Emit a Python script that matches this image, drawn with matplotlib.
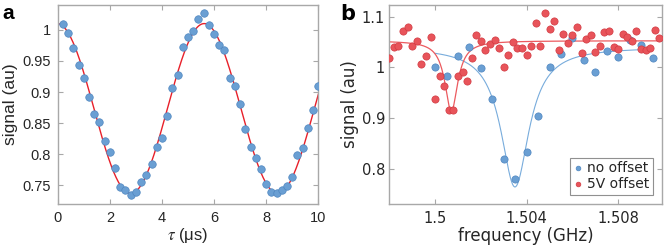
import numpy as np
import matplotlib
matplotlib.use("Agg")
import matplotlib.pyplot as plt

# ---------------- data: panel a ----------------
tau_us = [0.2, 0.4, 0.6, 0.8, 1.0, 1.2, 1.4, 1.6, 1.8, 2.0,
          2.2, 2.4, 2.6, 2.8, 3.0, 3.2, 3.4, 3.6, 3.8, 4.0,
          4.2, 4.4, 4.6, 4.8, 5.0, 5.2, 5.4, 5.6, 5.8, 6.0,
          6.2, 6.4, 6.6, 6.8, 7.0, 7.2, 7.4, 7.6, 7.8, 8.0,
          8.2, 8.4, 8.6, 8.8, 9.0, 9.2, 9.4, 9.6, 9.8, 10.0]
signal_a = [1.010, 0.995, 0.971, 0.943, 0.923, 0.892, 0.864, 0.851, 0.821, 0.804,
            0.778, 0.748, 0.742, 0.734, 0.739, 0.755, 0.766, 0.784, 0.812, 0.826,
            0.861, 0.907, 0.928, 0.972, 0.989, 0.998, 1.018, 1.027, 1.008, 0.994,
            0.975, 0.967, 0.923, 0.910, 0.881, 0.840, 0.812, 0.794, 0.776, 0.752,
            0.740, 0.738, 0.742, 0.749, 0.763, 0.798, 0.810, 0.842, 0.871, 0.910]
# cosine fit parameters (offset, amplitude, period, time of maximum)
fit_a_offset, fit_a_amp, fit_a_period, fit_a_tmax = 0.8735, 0.1365, 5.64, 5.62

# ---------------- data: panel b ----------------
freq_no_offset = [1.5000, 1.5005, 1.5010, 1.5015, 1.5020, 1.5025, 1.5030, 1.5035, 1.5040, 1.5045,
                  1.5050, 1.5055, 1.5060, 1.5065, 1.5070, 1.5075, 1.5080, 1.5085, 1.5090, 1.5095]
sig_no_offset = [1.001, 0.983, 1.022, 1.040, 0.998, 0.938, 0.820, 0.780, 0.833, 0.905,
                 1.001, 1.026, 1.058, 1.015, 0.992, 1.032, 1.021, 1.054, 1.045, 1.018]

freq_5v = [1.4980, 1.4982, 1.4984, 1.4986, 1.4988, 1.4990, 1.4992, 1.4994, 1.4996, 1.4998,
           1.5000, 1.5002, 1.5004, 1.5006, 1.5008, 1.5010, 1.5012, 1.5014, 1.5016, 1.5018,
           1.5020, 1.5022, 1.5024, 1.5026, 1.5028, 1.5030, 1.5032, 1.5034, 1.5036, 1.5038,
           1.5040, 1.5042, 1.5044, 1.5046, 1.5048, 1.5050, 1.5052, 1.5054, 1.5056, 1.5058,
           1.5060, 1.5062, 1.5064, 1.5066, 1.5068, 1.5070, 1.5072, 1.5074, 1.5076, 1.5078,
           1.5080, 1.5082, 1.5084, 1.5086, 1.5088, 1.5090, 1.5092, 1.5094, 1.5096, 1.5098]
sig_5v = [1.018, 1.041, 1.043, 1.071, 1.080, 1.043, 1.053, 1.007, 1.022, 1.059,
          0.937, 0.984, 0.963, 0.916, 0.916, 0.984, 0.992, 0.974, 1.019, 1.064,
          1.053, 1.034, 1.047, 1.054, 1.038, 1.001, 1.024, 1.050, 1.039, 1.039,
          1.024, 1.043, 1.087, 1.043, 1.108, 1.076, 1.091, 1.034, 1.066, 1.049,
          1.064, 1.079, 1.029, 1.055, 1.064, 1.030, 1.043, 1.070, 1.072, 1.041,
          1.036, 1.066, 1.059, 1.053, 1.072, 1.037, 1.034, 1.039, 1.073, 1.057]

# Lorentzian fit parameters: baseline, depth, centre, half width
fit_no_offset = (1.040, 0.275, 1.50349, 0.00075)
fit_5v = (1.0525, 0.139, 1.50071, 0.00034)

# ---------------- style ----------------
plt.rcParams['mathtext.fontset'] = 'stix'
spine_c = '#a8a8a8'
text_c = '#262626'
blue_face = '#6a9fd3'
blue_edge = '#4f86c0'
red_face = '#e8545a'
red_edge = '#d23a42'

fig = plt.figure(figsize=(6.64, 2.52), dpi=100)
axa = fig.add_axes([0.0869, 0.1905, 0.3925, 0.790])
axb = fig.add_axes([0.5863, 0.1905, 0.4102, 0.790])

def style(ax, family, tsize, pad):
    for s in ax.spines.values():
        s.set_color(spine_c)
        s.set_linewidth(1.0)
    ax.tick_params(direction='in', top=True, right=True, length=3.5, width=0.8,
                   color=spine_c, labelcolor=text_c, labelsize=tsize, pad=pad)
    for lab in ax.get_xticklabels() + ax.get_yticklabels():
        lab.set_family(family)

# ---------------- panel a ----------------
t_fine = np.linspace(0, 10, 600)
fit_a = fit_a_offset + fit_a_amp * np.cos(2 * np.pi * (t_fine - fit_a_tmax) / fit_a_period)
axa.plot(t_fine, fit_a, color='#e8202a', lw=1.0, zorder=2)
axa.plot(tau_us, signal_a, 'o', ms=5.4, mfc=blue_face, mec=blue_edge, mew=0.5, zorder=3)
axa.set_xlim(0, 10)
axa.set_ylim(0.72, 1.04)
axa.set_xticks([0, 2, 4, 6, 8, 10])
axa.set_yticks([0.75, 0.8, 0.85, 0.9, 0.95, 1.0])
axa.set_yticklabels(['0.75', '0.8', '0.85', '0.9', '0.95', '1'])
style(axa, 'Liberation Sans', 10.5, 5)
axa.set_xlabel(r'$\tau$ (μs)', family='Liberation Sans', fontsize=12, color=text_c, labelpad=1)
axa.set_ylabel('signal (au)', family='Liberation Sans', fontsize=12.5, color=text_c, labelpad=3)
fig.text(0.004, 0.985, 'a', family='Liberation Sans', fontweight='bold', fontsize=15,
         va='top', ha='left', color='black')

# ---------------- panel b ----------------
f_fine_blue = np.linspace(1.5000, 1.5095, 600)
f_fine_red = np.linspace(1.4980, 1.5099, 600)
def lorentz(f, p):
    b, d, c, g = p
    return b - d / (1 + ((f - c) / g) ** 2)
axb.plot(f_fine_blue, lorentz(f_fine_blue, fit_no_offset), color='#78acdc', lw=0.8, zorder=2)
axb.plot(f_fine_red, lorentz(f_fine_red, fit_5v), color='#ec5a5f', lw=0.9, zorder=2)
axb.plot(freq_no_offset, sig_no_offset, 'o', ms=5.2, mfc=blue_face, mec=blue_edge, mew=0.5,
         zorder=3, label='no offset')
axb.plot(freq_5v, sig_5v, 'o', ms=5.2, mfc=red_face, mec=red_edge, mew=0.5, zorder=4,
         label='5V offset')
axb.set_xlim(1.4980, 1.5099)
axb.set_ylim(0.7315, 1.123)
axb.set_xticks([1.5, 1.504, 1.508])
axb.set_xticklabels(['1.5', '1.504', '1.508'])
axb.set_yticks([0.8, 0.9, 1.0, 1.1])
axb.set_yticklabels(['0.8', '0.9', '1', '1.1'])
style(axb, 'DejaVu Sans', 10.5, 5)
axb.tick_params(axis='y', pad=3)
axb.set_xlabel('frequency (GHz)', family='DejaVu Sans', fontsize=12, color=text_c, labelpad=1)
axb.set_ylabel('signal (au)', family='DejaVu Sans', fontsize=12, color=text_c, labelpad=2)
leg = axb.legend(loc='lower right', prop={'family': 'DejaVu Sans', 'size': 10},
                 markerscale=0.65, handlelength=0.6, handletextpad=0.35, borderpad=0.25,
                 labelspacing=0.15, fancybox=False, framealpha=1, edgecolor='#909090',
                 borderaxespad=0.65)
leg.get_frame().set_linewidth(0.8)
for t in leg.get_texts():
    t.set_color(text_c)
fig.text(0.512, 0.985, 'b', family='DejaVu Sans', fontweight='bold', fontsize=15,
         va='top', ha='left', color='black')

fig.savefig('out.png', dpi=100)
